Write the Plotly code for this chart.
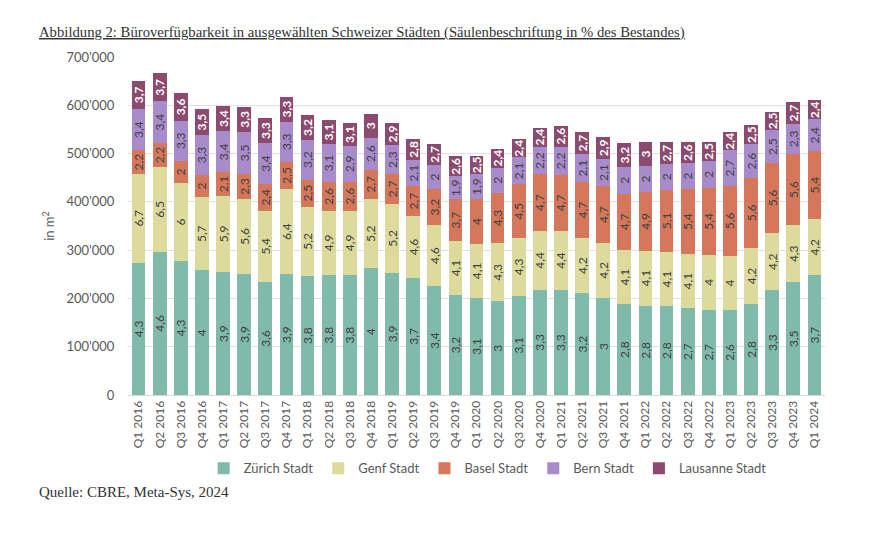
import plotly.graph_objects as go

quarters = ["Q1 2016","Q2 2016","Q3 2016","Q4 2016","Q1 2017","Q2 2017","Q3 2017","Q4 2017",
            "Q1 2018","Q2 2018","Q3 2018","Q4 2018","Q1 2019","Q2 2019","Q3 2019","Q4 2019",
            "Q1 2020","Q2 2020","Q3 2020","Q4 2020","Q1 2021","Q2 2021","Q3 2021","Q4 2021",
            "Q1 2022","Q2 2022","Q3 2022","Q4 2022","Q1 2023","Q2 2023","Q3 2023","Q4 2023","Q1 2024"]

# values in m2 (thousands)
zuerich = [274,297,278,258,254,251,234,250,246,248,248,262,253,243,225,207,201,194,206,218,217,211,201,188,185,184,180,177,176,189,217,233,248]
genf = [184,175,161,152,159,155,148,177,144,134,134,144,143,127,127,112,112,120,119,122,123,114,114,112,114,112,112,113,112,115,118,119,116]
basel = [49,50,46,46,48,52,55,56,56,59,60,61,62,63,74,86,93,105,111,117,116,116,117,117,121,129,134,139,145,146,146,147,141]
bern = [85,86,83,82,85,87,85,83,83,79,73,66,59,53,51,48,51,52,56,57,58,58,57,55,55,54,55,56,74,69,67,63,66]
lausanne = [59,58,57,54,53,52,51,52,50,49,49,49,47,45,43,41,39,39,38,40,44,45,46,50,48,44,42,39,37,40,39,44,39]

# labels: % of stock
zuerich_pct = ["4,3","4,6","4,3","4","3,9","3,9","3,6","3,9","3,8","3,8","3,8","4","3,9","3,7","3,4","3,2","3,1","3","3,1","3,3","3,3","3,2","3","2,8","2,8","2,8","2,7","2,7","2,6","2,8","3,3","3,5","3,7"]
genf_pct = ["6,7","6,5","6","5,7","5,9","5,6","5,4","6,4","5,2","4,9","4,9","5,2","5,2","4,6","4,6","4,1","4,1","4,3","4,3","4,4","4,4","4,2","4,2","4,1","4,1","4,1","4,1","4","4","4,2","4,2","4,3","4,2"]
basel_pct = ["2,2","2,2","2","2","2,1","2,3","2,4","2,5","2,5","2,6","2,6","2,7","2,7","2,7","3,2","3,7","4","4,3","4,5","4,7","4,7","4,7","4,7","4,7","4,9","5,1","5,4","5,4","5,6","5,6","5,6","5,6","5,4"]
bern_pct = ["3,4","3,4","3,3","3,3","3,4","3,5","3,4","3,3","3,2","3,1","2,9","2,6","2,3","2,1","2","1,9","1,9","2","2,1","2,2","2,2","2,1","2,1","2","2","2","2","2","2,7","2,6","2,5","2,3","2,4"]
lausanne_pct = ["3,7","3,7","3,6","3,5","3,4","3,3","3,3","3,3","3,2","3,1","3,1","3","2,9","2,8","2,7","2,6","2,5","2,4","2,4","2,4","2,6","2,7","2,9","3,2","3","2,7","2,6","2,5","2,4","2,5","2,5","2,7","2,4"]

series = [
    ("Zürich Stadt", zuerich, zuerich_pct, "#7fbaab", "#404040", False),
    ("Genf Stadt", genf, genf_pct, "#dcdb9c", "#404040", False),
    ("Basel Stadt", basel, basel_pct, "#d4775a", "#404040", False),
    ("Bern Stadt", bern, bern_pct, "#a88bcb", "#404040", False),
    ("Lausanne Stadt", lausanne, lausanne_pct, "#8b4a6e", "#ffffff", True),
]

FONT = "Lato"
fig = go.Figure()
for name, vals, pct, color, tcol, bold in series:
    fig.add_trace(go.Bar(
        name=name, x=quarters, y=[v * 1000 for v in vals],
        text=[f"<b>{p}</b>" if bold else p for p in pct],
        textposition="inside", insidetextanchor="middle", textangle=-90,
        textfont=dict(family=FONT, size=12, color=tcol),
        marker=dict(color=color, line=dict(width=0)),
        cliponaxis=False,
    ))

fig.update_layout(
    barmode="stack", bargap=0.35,
    width=891, height=535,
    margin=dict(l=128, r=66, t=57, b=139.5),
    paper_bgcolor="white", plot_bgcolor="white",
    separators=".’",
    uniformtext=dict(minsize=12, mode="show"),
    font=dict(family=FONT, color="#595959"),
    showlegend=True,
    legend=dict(orientation="h", x=0.516, xanchor="center", y=-0.217, yanchor="middle",
                font=dict(family=FONT, size=13, color="#595959"), traceorder="normal",
                itemwidth=30),
    xaxis=dict(tickangle=-90, tickfont=dict(family=FONT, size=12, color="#595959"),
               showline=True, linecolor="#d9d9d9", linewidth=1, ticks="", showgrid=False),
    yaxis=dict(range=[0, 700000], tickvals=[0,100000,200000,300000,400000,500000,600000,700000],
               tickformat=",d", tickfont=dict(family=FONT, size=13, color="#595959"),
               showgrid=True, gridcolor="#e0e0e0", gridwidth=1, zeroline=False,
               ticks="outside", ticklen=10, tickcolor="rgba(0,0,0,0)",
               title=dict(text="in m<sup>2</sup>", font=dict(family=FONT, size=13, color="#595959"), standoff=8)),
    annotations=[
        dict(text="<u>Abbildung 2: Büroverfügbarkeit in ausgewählten Schweizer Städten (Säulenbeschriftung in % des Bestandes)</u>",
             xref="paper", yref="paper", x=-0.1306, y=1.103, xanchor="left", yanchor="top",
             showarrow=False, font=dict(family="Liberation Serif", size=14.7, color="#333333")),
        dict(text="Quelle: CBRE, Meta-Sys, 2024",
             xref="paper", yref="paper", x=-0.1306, y=-0.288, xanchor="left", yanchor="middle",
             showarrow=False, font=dict(family="Liberation Serif", size=15, color="#333333")),
    ],
)

fig.write_html("out.html")
